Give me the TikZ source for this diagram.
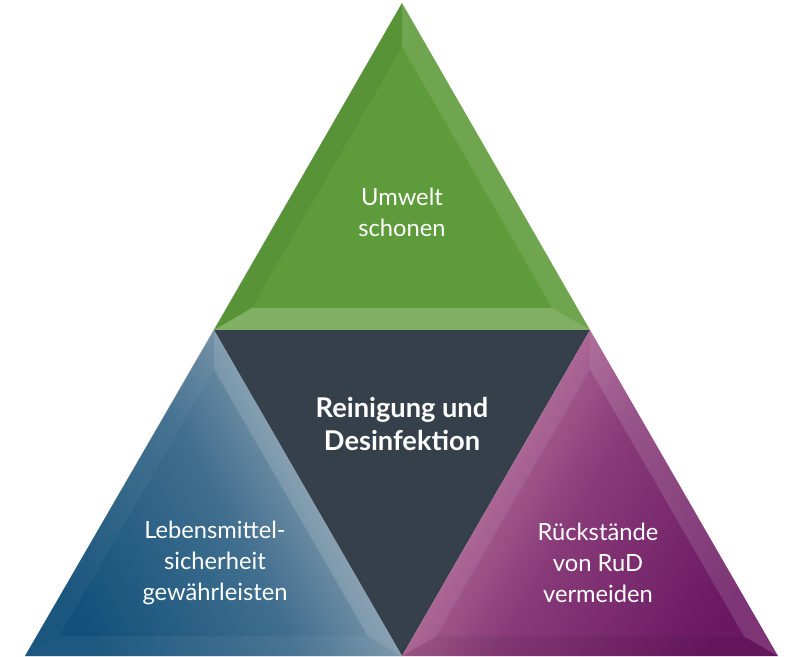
\documentclass[tikz,border=0pt]{standalone}
\usepackage{fontspec}
\setmainfont{Lato}
\usetikzlibrary{calc}
\definecolor{leafgreen}{RGB}{94,155,58}
\definecolor{slatedark}{RGB}{54,64,74}
\definecolor{deepblue}{RGB}{18,80,122}
\definecolor{paleblue}{RGB}{172,182,190}
\definecolor{rosepink}{RGB}{198,130,166}
\definecolor{plum}{RGB}{106,24,98}

\begin{document}
\begin{tikzpicture}[
    x=0.02cm,y=-0.02cm,
    txt/.style={text=white,align=center,font=\fontsize{13.5}{17.5}\selectfont},
    txtbold/.style={text=white,align=center,font=\bfseries\fontsize{15.5}{18.7}\selectfont},
    darkfacet/.style={fill=black,opacity=#1},
    lightfacet/.style={fill=white,opacity=#1}
]
\useasboundingbox (0,0) rectangle (800,656);

% corners of the big triangle
\coordinate (top) at (402,3);
\coordinate (ml) at (214,330);
\coordinate (mr) at (590,330);
\coordinate (bl) at (25,656);
\coordinate (bm) at (402,656);
\coordinate (br) at (778,656);

% soft shadow on the left
\foreach \s in {1,...,8}
  \fill[black,opacity=0.025,shift={(-1.8*\s,0.5*\s)}] (top) -- (bl) -- (bm) -- cycle;

% inner corners for the bevels
\coordinate (gc) at (402,221);
\coordinate (g1) at ($(gc)!0.8!(top)$);
\coordinate (g2) at ($(gc)!0.8!(ml)$);
\coordinate (g3) at ($(gc)!0.8!(mr)$);
\coordinate (lc) at (213.7,547.3);
\coordinate (l1) at ($(lc)!0.82!(ml)$);
\coordinate (l2) at ($(lc)!0.82!(bl)$);
\coordinate (l3) at ($(lc)!0.82!(bm)$);
\coordinate (rc) at (590.3,547.3);
\coordinate (r1) at ($(rc)!0.82!(mr)$);
\coordinate (r2) at ($(rc)!0.82!(bm)$);
\coordinate (r3) at ($(rc)!0.82!(br)$);

% top triangle
\fill[leafgreen] (top) -- (ml) -- (mr) -- cycle;
\fill[darkfacet=0.05] (top) -- (g1) -- (g2) -- (ml) -- cycle;
\fill[lightfacet=0.1] (top) -- (g1) -- (g3) -- (mr) -- cycle;
\fill[lightfacet=0.22] (ml) -- (g2) -- (g3) -- (mr) -- cycle;

% middle triangle
\fill[slatedark] (ml) -- (mr) -- (bm) -- cycle;

% left triangle
\shade[top color=paleblue,bottom color=deepblue,middle color=deepblue!70!paleblue,shading angle=-62] (ml) -- (bl) -- (bm) -- cycle;
\fill[lightfacet=0.04] (ml) -- (l1) -- (l2) -- (bl) -- cycle;
\fill[lightfacet=0.14] (ml) -- (l1) -- (l3) -- (bm) -- cycle;
\fill[lightfacet=0.05] (bl) -- (l2) -- (l3) -- (bm) -- cycle;

% right triangle
\shade[top color=rosepink,bottom color=plum,middle color=plum!68!rosepink,shading angle=60] (mr) -- (bm) -- (br) -- cycle;
\fill[lightfacet=0.07] (mr) -- (r1) -- (r2) -- (bm) -- cycle;
\fill[lightfacet=0.13] (mr) -- (r1) -- (r3) -- (br) -- cycle;
\fill[darkfacet=0.06] (bm) -- (r2) -- (r3) -- (br) -- cycle;

% texts
\node[txt] (umwelt) at (402,212) {Umwelt\\schonen};
\node[txtbold] (rud) at (402,424) {Reinigung und\\Desinfektion};
\node[txt] (sicher) at (215,563) {Lebensmittel-\\sicherheit\\gewährleisten};
\node[txt] (rueck) at (598,563) {Rückstände\\von RuD\\vermeiden};

\end{tikzpicture}
\end{document}
